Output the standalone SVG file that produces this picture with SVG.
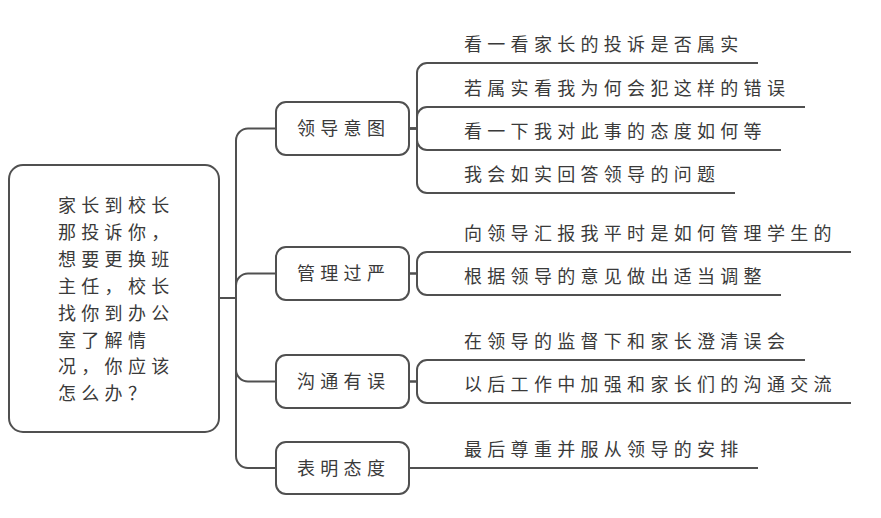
<svg xmlns="http://www.w3.org/2000/svg" width="881" height="518" viewBox="0 0 881 518">
<style>
.box{fill:#fff;stroke:#505050;stroke-width:2}
.ln{fill:none;stroke:#505050;stroke-width:2}
text{font-family:"Noto Sans CJK SC","Noto Sans CJK JP",sans-serif;font-size:18px;letter-spacing:5.3px;fill:#3a3a3a}
</style>
<rect width="881" height="518" fill="#fff"/>
<g id="connectors">
<path class="ln" d="M219,298 H236"/>
<path class="ln" d="M236,298 V140.5 A12,12 0 0 1 248,128.5 H276"/>
<path class="ln" d="M236,298 V285.5 A12,12 0 0 1 248,273.5 H276"/>
<path class="ln" d="M236,298 V369.5 A12,12 0 0 0 248,381.5 H276"/>
<path class="ln" d="M236,298 V456 A12,12 0 0 0 248,468 H276"/>
<path class="ln" d="M409,128.5 H417 V73 A10,10 0 0 1 427,63 H758"/>
<path class="ln" d="M409,128.5 H417 V117 A10,10 0 0 1 427,107 H805"/>
<path class="ln" d="M409,128.5 H417 V140 A10,10 0 0 0 427,150 H781"/>
<path class="ln" d="M409,128.5 H417 V183 A10,10 0 0 0 427,193 H735"/>
<path class="ln" d="M409,273.5 H417 V262 A10,10 0 0 1 427,252 H851"/>
<path class="ln" d="M409,273.5 H417 V285 A10,10 0 0 0 427,295 H781"/>
<path class="ln" d="M409,381.5 H417 V370 A10,10 0 0 1 427,360 H805"/>
<path class="ln" d="M409,381.5 H417 V393 A10,10 0 0 0 427,403 H851"/>
<path class="ln" d="M409,468 H758"/>
</g>
<g id="root">
<rect class="box" x="9" y="165" width="210" height="267" rx="14"/>
<text x="58" y="212">家长到校长</text>
<text x="58" y="239">那投诉你，</text>
<text x="58" y="266">想要更换班</text>
<text x="58" y="293">主任，校长</text>
<text x="58" y="320">找你到办公</text>
<text x="58" y="347">室了解情</text>
<text x="58" y="373">况，你应该</text>
<text x="58" y="400">怎么办？</text>
</g>
<g id="b1">
<rect class="box" x="276" y="102" width="133" height="53" rx="10"/>
<text x="297" y="135">领导意图</text>
</g>
<g id="b2">
<rect class="box" x="276" y="247" width="133" height="53" rx="10"/>
<text x="297" y="280">管理过严</text>
</g>
<g id="b3">
<rect class="box" x="276" y="355" width="133" height="53" rx="10"/>
<text x="297" y="388">沟通有误</text>
</g>
<g id="b4">
<rect class="box" x="276" y="442" width="133" height="52" rx="10"/>
<text x="297" y="475">表明态度</text>
</g>
<g id="l1"><text x="464" y="51">看一看家长的投诉是否属实</text></g>
<g id="l2"><text x="464" y="95">若属实看我为何会犯这样的错误</text></g>
<g id="l3"><text x="464" y="138">看一下我对此事的态度如何等</text></g>
<g id="l4"><text x="464" y="181">我会如实回答领导的问题</text></g>
<g id="l5"><text x="464" y="240">向领导汇报我平时是如何管理学生的</text></g>
<g id="l6"><text x="464" y="283">根据领导的意见做出适当调整</text></g>
<g id="l7"><text x="464" y="348">在领导的监督下和家长澄清误会</text></g>
<g id="l8"><text x="464" y="391">以后工作中加强和家长们的沟通交流</text></g>
<g id="l9"><text x="464" y="456">最后尊重并服从领导的安排</text></g>
</svg>
